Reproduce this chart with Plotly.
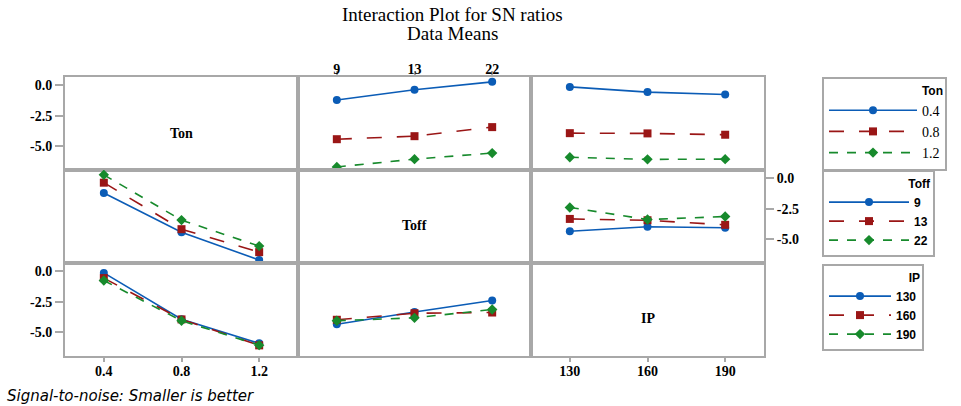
import plotly.graph_objects as go
from plotly.subplots import make_subplots

# ---------------- data ----------------
factors = ["Ton", "Toff", "IP"]
ton_levels = ["0.4", "0.8", "1.2"]
toff_levels = ["9", "13", "22"]
ip_levels = ["130", "160", "190"]

# mean SN ratios: rows = first factor level, cols = second factor level
sn_ton_toff = [[-1.20, -0.35, 0.30],
               [-4.45, -4.20, -3.45],
               [-6.75, -6.10, -5.60]]
sn_ton_ip = [[-0.12, -0.55, -0.75],
             [-3.95, -3.97, -4.08],
             [-5.95, -6.12, -6.10]]
sn_toff_ip = [[-4.37, -4.00, -4.08],
              [-3.35, -3.46, -3.84],
              [-2.40, -3.40, -3.15]]

y_ticks = [0.0, -2.5, -5.0]
y_ticktext = ["0.0", "-2.5", "-5.0"]

# ---------------- style ----------------
W, H = 961, 406
L, R, T, B = 65, 764, 77, 356
colors = ["#0b5cb6", "#9a1616", "#178a2c"]
symbols = ["circle", "square", "diamond"]
dashes = ["solid", "longdash", "dash"]
grey = "#a8a8a8"
serif = "Liberation Serif"
sans = "Liberation Sans"


def px(xp):
    return (xp - L) / (R - L)


def py(yp):
    return (B - yp) / (B - T)


fig = make_subplots(rows=3, cols=3, horizontal_spacing=0, vertical_spacing=0)


def col(mat, j):
    return [row[j] for row in mat]


def add(row, c, xcats, yvals, k, name, legend, show):
    fig.add_trace(go.Scatter(
        x=list(range(len(xcats))), y=yvals, mode="lines+markers",
        name=name, legend=legend, showlegend=show, hoverinfo="x+y",
        line=dict(color=colors[k], width=1.6, dash=dashes[k]),
        marker=dict(symbol=symbols[k], size=8, color=colors[k]),
    ), row=row, col=c)


# diagonal panels hold no data; an empty trace makes sure they are drawn
for i in range(3):
    fig.add_trace(go.Scatter(x=[], y=[], showlegend=False, hoverinfo="skip"),
                  row=i + 1, col=i + 1)

# Row 1: Ton lines
for k, lv in enumerate(ton_levels):
    add(1, 2, toff_levels, sn_ton_toff[k], k, lv, "legend", True)
    add(1, 3, ip_levels, sn_ton_ip[k], k, lv, "legend", False)
# Row 2: Toff lines
for k, lv in enumerate(toff_levels):
    add(2, 1, ton_levels, col(sn_ton_toff, k), k, lv, "legend2", True)
    add(2, 3, ip_levels, sn_toff_ip[k], k, lv, "legend2", False)
# Row 3: IP lines
for k, lv in enumerate(ip_levels):
    add(3, 1, ton_levels, col(sn_ton_ip, k), k, lv, "legend3", True)
    add(3, 2, toff_levels, col(sn_toff_ip, k), k, lv, "legend3", False)

tickfont = dict(family=serif, size=14, color="black", weight="bold")

fig.update_xaxes(range=[-0.5, 2.5], showline=True, mirror=True, linecolor=grey,
                 linewidth=2, showgrid=False, zeroline=False,
                 showticklabels=False, ticks="")
fig.update_yaxes(range=[-7.0, 0.7], showline=True, mirror=True, linecolor=grey,
                 linewidth=2, showgrid=False, zeroline=False,
                 showticklabels=False, ticks="")

xt = dict(ticks="outside", ticklen=4, tickwidth=1.5, tickcolor=grey,
          showticklabels=True, tickfont=tickfont)
fig.update_xaxes(row=3, col=1, tickvals=list(range(3)), ticktext=ton_levels,
                 ticklabelstandoff=-3, **xt)
fig.update_xaxes(row=3, col=3, tickvals=list(range(3)), ticktext=ip_levels,
                 ticklabelstandoff=-3, **xt)
fig.update_xaxes(row=1, col=2, side="top", tickvals=list(range(3)),
                 ticktext=toff_levels, ticklabelstandoff=-9, **xt)

yt = dict(ticks="outside", ticklen=8, tickwidth=1.5, tickcolor=grey,
          showticklabels=True, tickfont=tickfont, tickvals=y_ticks,
          ticktext=y_ticktext)
fig.update_yaxes(row=1, col=1, **yt)
fig.update_yaxes(row=3, col=1, **yt)
fig.update_yaxes(row=2, col=3, side="right", **yt)

annotations = []
diag_pos = [(181, 133), (414, 225), (648, 318)]
for f, (xp, yp) in zip(factors, diag_pos):
    annotations.append(dict(
        text="<b>%s</b>" % f, xref="paper", yref="paper",
        x=px(xp), y=py(yp), xanchor="center", yanchor="middle", showarrow=False,
        font=dict(family=serif, size=14, color="black")))

for txt, yp in [("Interaction Plot for SN ratios", 15), ("Data Means", 33)]:
    annotations.append(dict(
        text=txt, xref="paper", yref="paper",
        x=px(452), y=py(yp), xanchor="center", yanchor="middle", showarrow=False,
        font=dict(family=serif, size=19, color="black")))

annotations.append(dict(
    text="<i>Signal-to-noise: Smaller is better</i>", xref="paper", yref="paper",
    x=px(5), y=py(396), xanchor="left", yanchor="middle", showarrow=False,
    font=dict(family="DejaVu Sans", size=15, color="black")))


def legend_box(top_px, title, font, iw):
    return dict(
        x=px(822), y=py(top_px), xanchor="left", yanchor="top",
        bordercolor=grey, borderwidth=2, bgcolor="white",
        title=dict(text="<b>%s</b>" % title, side="top right",
                   font=dict(family=sans, size=12, color="black")),
        font=font, itemwidth=iw, tracegroupgap=0,
        traceorder="normal")


fig.update_layout(
    width=W, height=H,
    margin=dict(l=L, r=W - R, t=T, b=H - B, pad=0),
    paper_bgcolor="white", plot_bgcolor="white",
    annotations=annotations,
    legend=legend_box(77, "Ton", dict(family=serif, size=14, color="black"), 88),
    legend2=legend_box(170, "Toff", dict(family=sans, size=12, color="black", weight="bold"), 80),
    legend3=legend_box(264, "IP", dict(family=sans, size=12, color="black", weight="bold"), 62),
)

fig.write_html("out.html")
